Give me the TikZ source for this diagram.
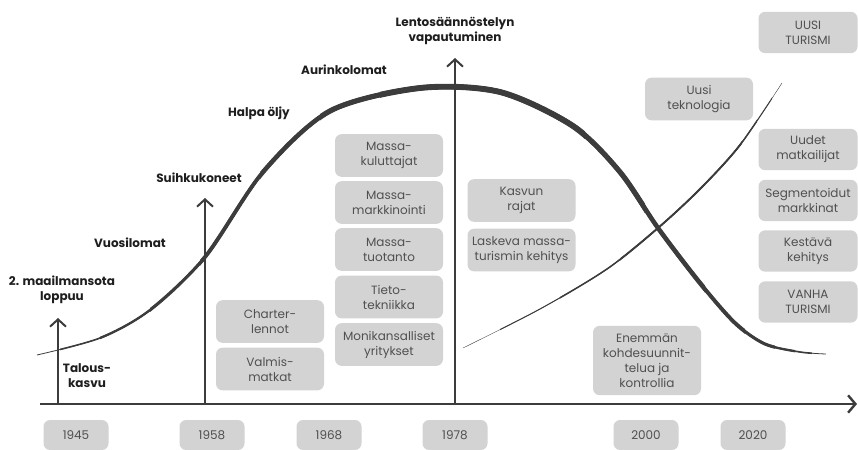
\documentclass[tikz,border=0pt]{standalone}
\usepackage{fontspec}
\setmainfont{Poppins}
\usetikzlibrary{arrows.meta}

\definecolor{linegray}{RGB}{60,60,60}
\definecolor{boxgray}{RGB}{211,211,211}
\definecolor{boxtext}{RGB}{80,80,80}
\definecolor{labelblack}{RGB}{30,30,30}

\tikzset{
  graybox/.style={fill=boxgray, rounded corners=5pt, text=boxtext, align=center, inner sep=0pt,
    font=\fontsize{9}{11.25}\selectfont, minimum width=81pt, minimum height=32pt},
  yearbox/.style={graybox, minimum width=48.75pt, minimum height=22.5pt},
  rightbox/.style={graybox, minimum width=74.25pt, minimum height=31pt},
  eventlabel/.style={text=labelblack, align=center, inner sep=0pt,
    font=\bfseries\fontsize{9}{11.25}\selectfont},
  vline/.style={draw=linegray, line width=1.5pt, -{Straight Barb[length=5.5pt,width=12pt]}},
}

% kayrat (pikseleina)
\def\bellcurve{plot[smooth] coordinates {(37,355) (100,338) (150,310) (205,257) (263,172) (330,111) (420,88) (500,92) (573,126) (620,172) (658,228) (700,283) (735,323) (765,344) (800,352) (826,354)}}
\def\newcurve{plot[smooth] coordinates {(463,348) (540,309) (607,269) (658,228) (700,189) (740,145) (782,83)}}

\begin{document}
\begin{tikzpicture}[x=0.75pt, y=-0.75pt]
  \useasboundingbox (0,0) rectangle (858,450);

  %%%%%%%%%%%%%%%%%%%%%%%% Aika-akseli %%%%%%%%%%%%%%%%%%%%%%%%%%%%%%%%%%%
  \coordinate (axstart) at (40,404);
  \coordinate (axend) at (857,404);
  \draw[draw=linegray, line width=1.8pt, -{Straight Barb[length=5.5pt,width=13pt]}] (axstart) -- (axend);

  %%%%%%%%%%%%%%%%%%%%%%%% Pystynuolet %%%%%%%%%%%%%%%%%%%%%%%%%%%%%%%%%%%
  \coordinate (b1945) at (58,404);
  \coordinate (a1945) at (58,318);
  \coordinate (b1958) at (205,404);
  \coordinate (a1958) at (205,198);
  \coordinate (b1978) at (455,404);
  \coordinate (a1978) at (455,58);
  \draw[vline] (b1945) -- (a1945);
  \draw[vline] (b1958) -- (a1958);
  \draw[vline] (b1978) -- (a1978);

  %%%%%%%%%%%%%%%%%%%%%%%% Massaturismin kayra (ohenee paista) %%%%%%%%%%%%
  \draw[linegray, line width=0.6pt] \bellcurve;
  \begin{scope}\clip (60,0) rectangle (812,450); \draw[linegray, line width=1.2pt] \bellcurve; \end{scope}
  \begin{scope}\clip (100,0) rectangle (795,450); \draw[linegray, line width=1.75pt] \bellcurve; \end{scope}
  \begin{scope}\clip (150,0) rectangle (775,450); \draw[linegray, line width=2.35pt] \bellcurve; \end{scope}
  \begin{scope}\clip (200,0) rectangle (745,450); \draw[linegray, line width=2.9pt] \bellcurve; \end{scope}
  \begin{scope}\clip (260,0) rectangle (705,450); \draw[linegray, line width=3.4pt] \bellcurve; \end{scope}
  \begin{scope}\clip (320,0) rectangle (645,450); \draw[linegray, line width=3.9pt] \bellcurve; \end{scope}
  \begin{scope}\clip (380,0) rectangle (585,450); \draw[linegray, line width=4.4pt] \bellcurve; \end{scope}

  %%%%%%%%%%%%%%%%%%%%%%%% Uuden turismin kayra %%%%%%%%%%%%%%%%%%%%%%%%%%%
  \draw[linegray, line width=0.3pt] \newcurve;
  \begin{scope}\clip (500,0) rectangle (772,450); \draw[linegray, line width=0.75pt] \newcurve; \end{scope}
  \begin{scope}\clip (560,0) rectangle (757,450); \draw[linegray, line width=1.1pt] \newcurve; \end{scope}
  \begin{scope}\clip (620,0) rectangle (742,450); \draw[linegray, line width=1.4pt] \newcurve; \end{scope}

  %%%%%%%%%%%%%%%%%%%%%%%% Tapahtumat %%%%%%%%%%%%%%%%%%%%%%%%%%%%%%%%%%%%
  \node[eventlabel] (sota) at (62,290) {2. maailmansota\\loppuu};
  \node[eventlabel] (talous) at (87,376) {Talous-\\kasvu};
  \node[eventlabel] (vuosi) at (130,243) {Vuosilomat};
  \node[eventlabel] (suihku) at (199,178) {Suihkukoneet};
  \node[eventlabel] (oljy) at (259,113) {Halpa öljy};
  \node[eventlabel] (aurinko) at (344,70) {Aurinkolomat};
  \node[eventlabel] (lento) at (455,31) {Lentosäännöstelyn\\vapautuminen};

  %%%%%%%%%%%%%%%%%%%%%%%% Laatikot %%%%%%%%%%%%%%%%%%%%%%%%%%%%%%%%%%%%%%
  \node[graybox] (charter) at (270,321.5) {Charter-\\lennot};
  \node[graybox] (valmis) at (270,369) {Valmis-\\matkat};
  \node[graybox] (kuluttajat) at (389,155.5) {Massa-\\kuluttajat};
  \node[graybox] (markkinointi) at (389,202.5) {Massa-\\markkinointi};
  \node[graybox] (tuotanto) at (389,249.5) {Massa-\\tuotanto};
  \node[graybox] (tieto) at (389,297) {Tieto-\\tekniikka};
  \node[graybox] (moni) at (389,344.5) {Monikansalliset\\yritykset};
  \node[graybox] (rajat) at (521.5,200.5) {Kasvun\\rajat};
  \node[graybox] (laskeva) at (521.5,250) {Laskeva massa-\\turismin kehitys};
  \node[graybox, minimum height=52pt] (kohde) at (647,360.5) {Enemmän\\kohdesuunnit-\\telua ja\\kontrollia};
  \node[graybox] (tekno) at (699,99) {Uusi\\teknologia};

  %%%%%%%%%%%%%%%%%%%%%%%% Oikea sarake %%%%%%%%%%%%%%%%%%%%%%%%%%%%%%%%%%
  \node[rightbox] (uusi) at (808,32.5) {UUSI\\TURISMI};
  \node[rightbox] (uudet) at (808,149.5) {Uudet\\matkailijat};
  \node[rightbox] (segment) at (808,200.5) {Segmentoidut\\markkinat};
  \node[rightbox] (kestava) at (808,251) {Kestävä\\kehitys};
  \node[rightbox] (vanha) at (808,302) {VANHA\\TURISMI};

  %%%%%%%%%%%%%%%%%%%%%%%% Vuosiluvut %%%%%%%%%%%%%%%%%%%%%%%%%%%%%%%%%%%%
  \node[yearbox] (y1945) at (76,435) {1945};
  \node[yearbox] (y1958) at (212,435) {1958};
  \node[yearbox] (y1968) at (329,435) {1968};
  \node[yearbox] (y1978) at (455,435) {1978};
  \node[yearbox] (y2000) at (646,435) {2000};
  \node[yearbox] (y2020) at (753,435) {2020};
\end{tikzpicture}
\end{document}
